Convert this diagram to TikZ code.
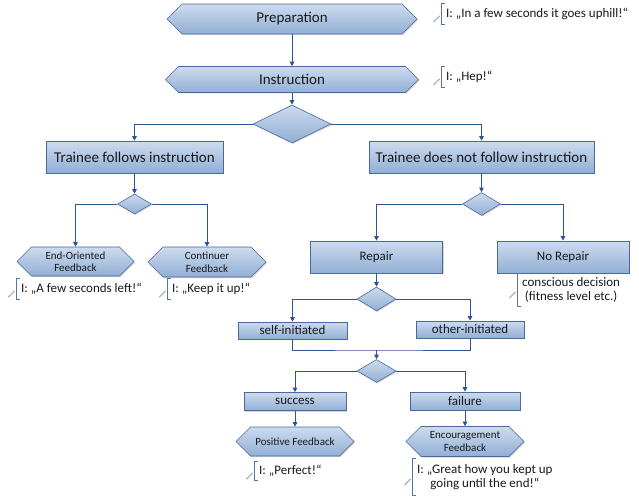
\documentclass[tikz,border=0pt]{standalone}
\usepackage{fontspec}
\setmainfont{Carlito}
\usetikzlibrary{shapes.symbols,shapes.geometric,shadows,arrows.meta}
\definecolor{boxtop}{RGB}{205,219,238}
\definecolor{boxbot}{RGB}{145,175,213}
\definecolor{boxline}{RGB}{75,105,155}
\definecolor{flowline}{RGB}{45,85,150}
\definecolor{notebar}{RGB}{90,115,155}
\definecolor{txt}{RGB}{25,25,25}
\begin{document}
\begin{tikzpicture}[x=1pt,y=-1pt,
        every node/.style={text=txt},
        block/.style={draw=boxline, line width=0.6pt, top color=boxtop, bottom color=boxbot,
            drop shadow={shadow xshift=1pt, shadow yshift=-1pt, opacity=0.35}, inner sep=0pt},
        rbox/.style={block, rectangle},
        hexa/.style={block, signal, signal to=west and east, signal pointer angle=90},
        decide/.style={block, diamond},
        big/.style={font=\fontsize{15}{18}\selectfont},
        mid/.style={font=\fontsize{13}{15}\selectfont},
        small/.style={font=\fontsize{11}{12.5}\selectfont, align=center},
        flow/.style={draw=flowline, line width=0.9pt, -{Triangle[length=4.5pt,width=4.5pt]}},
        link/.style={draw=flowline, line width=0.9pt},
        note/.style={anchor=west, inner xsep=5pt, inner ysep=0pt, align=center,
            font=\fontsize{13}{14}\selectfont},
        bar/.style={draw=notebar, line width=0.7pt},
        lead/.style={draw=notebar, line width=0.35pt, double=white, double distance=0.6pt}]
    \useasboundingbox (0,0) rectangle (639,500);
    % top part
    \node [hexa, big, minimum width=250pt, minimum height=30pt] (prep) at (292,19) {Preparation};
    \node [hexa, big, minimum width=253pt, minimum height=26pt] (instr) at (292,79.5) {Instruction};
    \node [decide, minimum width=78pt, minimum height=38pt] (d1) at (292,124) {};
    \node [rbox, big, minimum width=177pt, minimum height=32pt] (follow) at (134.5,157) {Trainee follows instruction};
    \node [rbox, big, minimum width=225pt, minimum height=32pt] (nofollow) at (481.5,157) {Trainee does not follow instruction};
    % left branch
    \node [decide, minimum width=34pt, minimum height=20pt] (d2) at (134.5,204) {};
    \node [hexa, small, minimum width=117pt, minimum height=29pt] (endfb) at (75.5,261.5) {End-Oriented\\Feedback};
    \node [hexa, small, minimum width=118pt, minimum height=30pt] (contfb) at (207,262) {Continuer\\Feedback};
    % right branch
    \node [decide, minimum width=38pt, minimum height=23pt] (d3) at (481.5,204) {};
    \node [rbox, mid, minimum width=132pt, minimum height=32pt] (repair) at (376.5,257) {Repair};
    \node [rbox, mid, minimum width=132pt, minimum height=32pt] (norepair) at (563,257) {No Repair};
    \node [decide, minimum width=39pt, minimum height=24pt] (d4) at (376.5,299) {};
    \node [rbox, mid, minimum width=109pt, minimum height=17pt] (selfi) at (292.5,330.5) {self-initiated};
    \node [rbox, mid, minimum width=108pt, minimum height=17pt] (otheri) at (470,329.5) {other-initiated};
    \coordinate (join) at (376.5,350);
    \node [decide, minimum width=39pt, minimum height=23pt] (d5) at (376.5,371) {};
    \node [rbox, mid, minimum width=102pt, minimum height=18pt] (success) at (295,401.5) {success};
    \node [rbox, mid, minimum width=110pt, minimum height=18pt] (failure) at (465,401) {failure};
    \node [hexa, small, minimum width=118pt, minimum height=29pt] (posfb) at (295,441.5) {Positive Feedback};
    \node [hexa, small, minimum width=118pt, minimum height=30pt] (encfb) at (465,441.5) {Encouragement\\Feedback};
    % connectors
    \draw [flow] (prep.south) to (instr.north);
    \draw [flow] (instr.south) to (d1.north);
    \draw [flow] (d1.west) -| (follow.north);
    \draw [flow] (d1.east) -| (nofollow.north);
    \draw [flow] (follow.south) to (d2.north);
    \draw [flow] (d2.west) -| (endfb.north);
    \draw [flow] (d2.east) -| (contfb.north);
    \draw [flow] (nofollow.south) to (d3.north);
    \draw [flow] (d3.west) -| (repair.north);
    \draw [flow] (d3.east) -| (norepair.north);
    \draw [flow] (repair.south) to (d4.north);
    \draw [flow] (d4.west) -| (selfi.north);
    \draw [flow] (d4.east) -| (otheri.north);
    \draw [link] (selfi.south) |- (join) -| (otheri.south);
    \draw [flow] (join) to (d5.north);
    \draw [flow] (d5.west) -| (success.north);
    \draw [flow] (d5.east) -| (failure.north);
    \draw [flow] (success.south) to (posfb.north);
    \draw [flow] (failure.south) to (encfb.north);
    % comments of the instructor
    \node [note, minimum height=20pt] (n1) at (441,14) {I: „In a few seconds it goes uphill!“};
    \node [note, minimum height=21pt] (n2) at (441,77) {I: „Hep!“};
    \node [note, minimum height=20pt] (n3) at (16,289) {I: „A few seconds left!“};
    \node [note, minimum height=20pt] (n4) at (167,289) {I: „Keep it up!“};
    \node [note, minimum height=33pt] (n5) at (517,290) {conscious decision\\(fitness level etc.)};
    \node [note, minimum height=19pt] (n6) at (254,471) {I: „Perfect!“};
    \node [note, minimum height=37pt] (n7) at (412,477) {I: „Great how you kept up\\going until the end!“};
    \foreach \n in {n1,n2,n3,n4,n5,n6,n7} {
        \draw [bar] ([xshift=4pt]\n.north west) -- (\n.north west) -- (\n.south west) -- ([xshift=4pt]\n.south west);
        \draw [lead] ([xshift=-1.5pt,yshift=-2pt]\n.west) -- ++(-6,6);
    }
\end{tikzpicture}
\end{document}
